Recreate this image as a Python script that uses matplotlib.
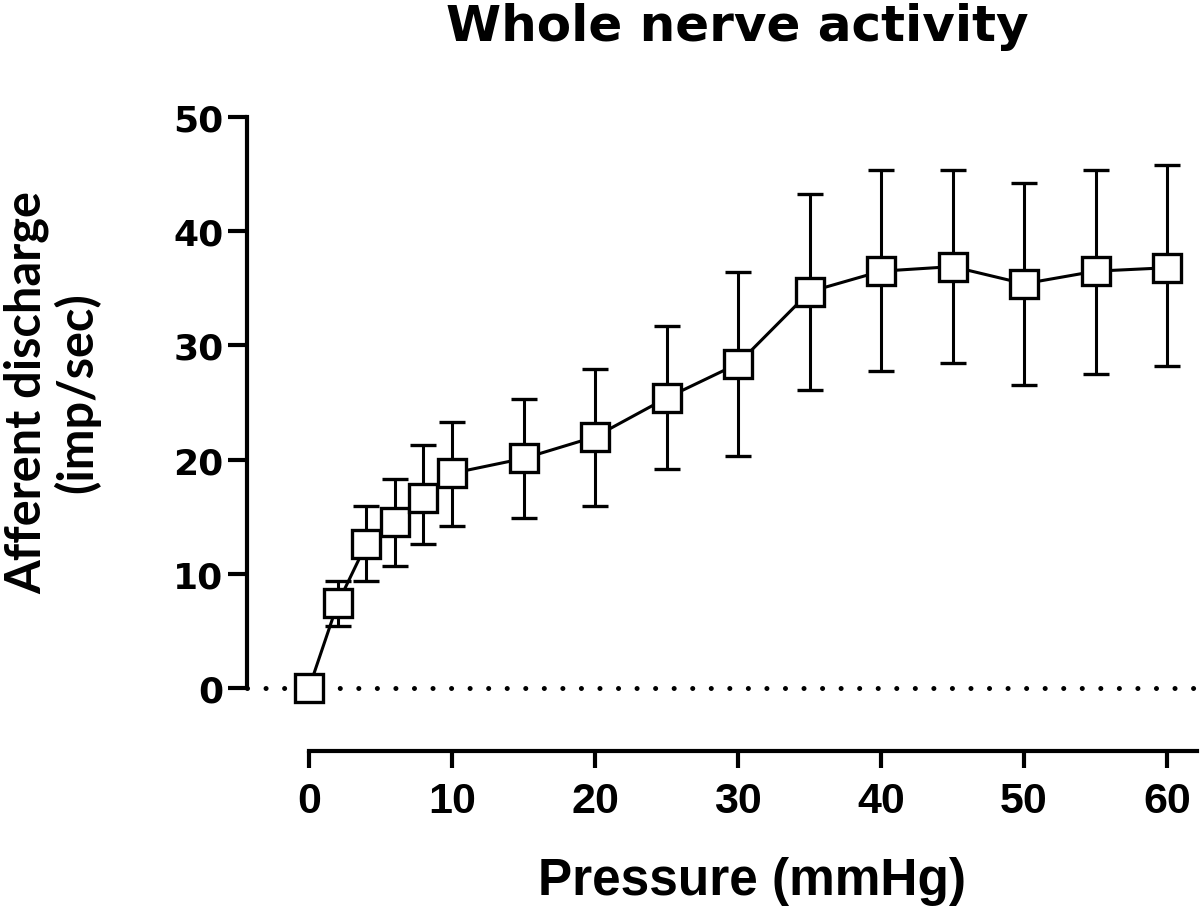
import matplotlib.pyplot as plt

pressure = [0, 2, 4, 6, 8, 10, 15, 20, 25, 30, 35, 40, 45, 50, 55, 60]
discharge = [0, 7.4, 12.6, 14.5, 16.6, 18.8, 20.1, 22.0, 25.4, 28.4, 34.7, 36.5, 36.9, 35.4, 36.5, 36.8]
err_upper = [0, 9.4, 15.9, 18.3, 21.3, 23.3, 25.3, 27.9, 31.7, 36.4, 43.3, 45.4, 45.4, 44.2, 45.4, 45.8]
err_lower = [0, 5.4, 9.4, 10.7, 12.6, 14.2, 14.9, 15.9, 19.2, 20.3, 26.1, 27.8, 28.5, 26.5, 27.5, 28.2]

x_ticks = [0, 10, 20, 30, 40, 50, 60]
y_ticks = [0, 10, 20, 30, 40, 50]

yerr = [[d - lo for d, lo in zip(discharge, err_lower)],
        [hi - d for d, hi in zip(discharge, err_upper)]]

sans = ["Liberation Sans", "DejaVu Sans"]

fig = plt.figure(figsize=(12, 9.12), dpi=100)
ax = fig.add_axes([247 / 1200, (912 - 689) / 912, 953 / 1200, 571 / 912])

# zero reference line
ax.axhline(0, color="black", linewidth=3.6, linestyle=(0, (0.01, 3.7)),
           dash_capstyle="round", zorder=1, clip_on=False)

ax.errorbar(pressure, discharge, yerr=yerr, color="black", linewidth=2.2,
            elinewidth=2.2, capsize=9.5, capthick=2.2,
            marker="s", markersize=19.5, markerfacecolor="white",
            markeredgecolor="black", markeredgewidth=2.4, clip_on=False, zorder=3)

ax.set_xlim(-4.34, 62.3)
ax.set_ylim(0, 50)

for s in ["top", "right"]:
    ax.spines[s].set_visible(False)
ax.spines["left"].set_linewidth(3)
ax.spines["bottom"].set_linewidth(3)
ax.spines["bottom"].set_position(("outward", 45))
ax.spines["bottom"].set_bounds(0, 62.1)

ax.set_xticks(x_ticks)
ax.set_yticks(y_ticks)
ax.tick_params(axis="y", length=14, width=3, pad=3)
ax.tick_params(axis="x", length=12, width=3, pad=10)
for lab in ax.get_yticklabels():
    lab.set_fontfamily(["DejaVu Sans"])
    lab.set_fontweight("bold")
    lab.set_fontsize(26)
for lab in ax.get_xticklabels():
    lab.set_fontfamily(sans)
    lab.set_fontweight("bold")
    lab.set_fontsize(31)

fig.text(752 / 1200, 1 - 882 / 912, "Pressure (mmHg)", ha="center", va="center",
         fontsize=37, fontweight="bold", family=sans)
fig.text(52 / 1200, 1 - 393 / 912, "Afferent discharge\n(imp/sec)", ha="center",
         va="center", rotation=90, fontsize=35, fontweight="bold",
         family=["Lato", "DejaVu Sans"], linespacing=1.12)
fig.text(737 / 1200, 1 - 27 / 912, "Whole nerve activity", ha="center", va="center",
         fontsize=36, fontweight="bold", family=["DejaVu Sans"])

fig.savefig("out.png", dpi=100)
